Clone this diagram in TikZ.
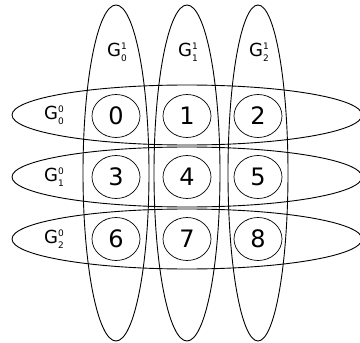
\documentclass[tikz,border=0pt]{standalone}
\usepackage{fontspec}
\setmainfont{DejaVu Sans}
\usepackage{tikz}
\usetikzlibrary{shapes.geometric}

\newcommand{\glab}[2]{G\rlap{\raisebox{0.75ex}{\fontsize{9}{9}\selectfont #1}}\raisebox{-0.45ex}{\fontsize{9}{9}\selectfont #2}}

\tikzset{
  cell/.style={draw, ellipse, line width=0.7pt, minimum width=48pt, minimum height=43pt,
    inner sep=0pt, font=\fontsize{24}{24}\selectfont},
  group/.style={line width=0.9pt},
  glabel/.style={font=\fontsize{18}{18}\selectfont}
}

\begin{document}
\begin{tikzpicture}[x=1pt, y=-1pt]
  \useasboundingbox (0,0) rectangle (360,343);
  % column groups
  \foreach \c/\x/\w in {0/116/33, 1/187/33, 2/258/30} {
    \draw[group] (\x,173) ellipse ({\w} and 168);
    \node[glabel] (top\c) at (\x+1,52) {\glab{1}{\c}};
  }
  % row groups
  \foreach \r/\y in {0/115, 1/177, 2/239} {
    \draw[group] (187,\y) ellipse (175 and 30);
    \node[glabel] (left\r) at (54,\y) {\glab{0}{\r}};
  }
  % cells
  \foreach \r/\y in {0/116, 1/177, 2/239}
    \foreach \c/\x in {0/116, 1/187, 2/258} {
      \pgfmathtruncatemacro{\k}{3*\r+\c}
      \node[cell] (n\k) at (\x,\y) {\k};
    }
\end{tikzpicture}
\end{document}
